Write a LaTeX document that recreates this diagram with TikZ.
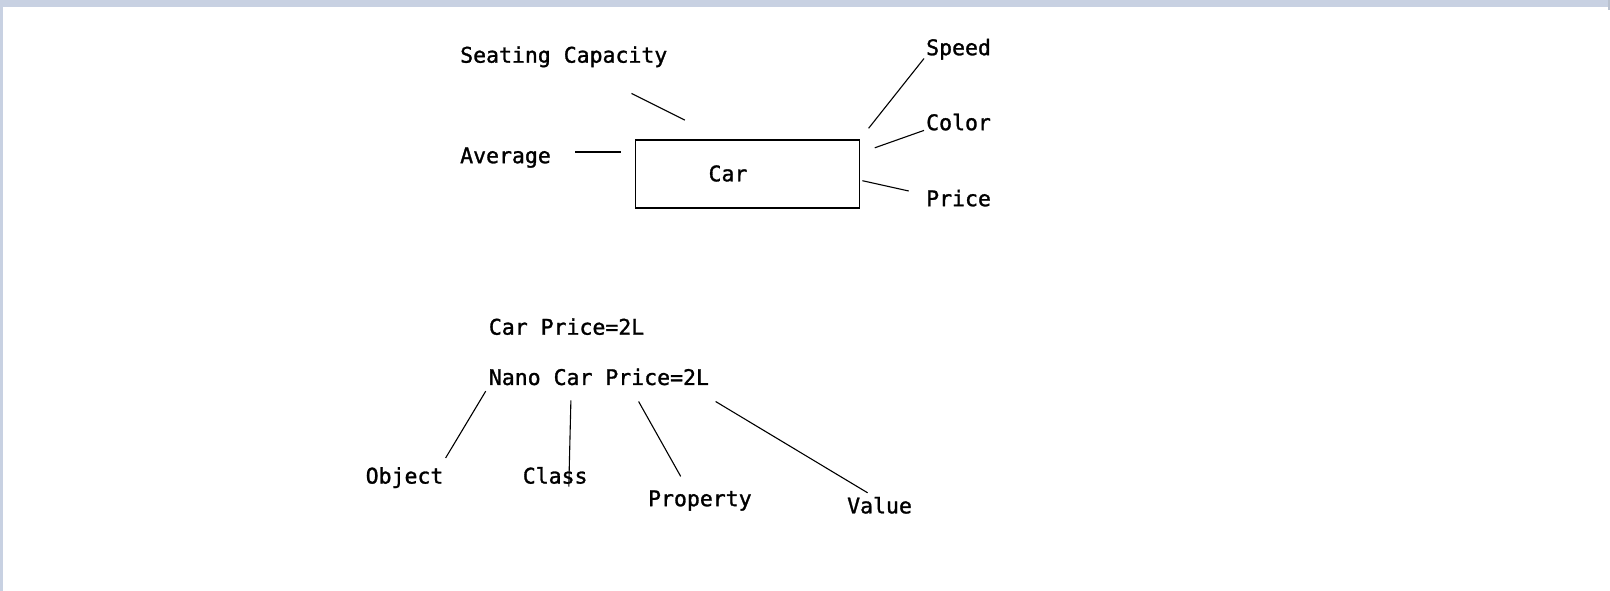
\documentclass[tikz,border=0pt]{standalone}
\usepackage{fontspec}
\newfontfamily\lblfont[FakeBold=1.3]{DejaVu Sans Mono}
\definecolor{frame}{HTML}{C8D1E2}
\tikzset{
  lbl/.style={anchor=mid west, inner sep=0pt, font=\lblfont\fontsize{21.5}{25}\selectfont},
  conn/.style={draw=black, line width=1.1pt},
  carbox/.style={draw=black, line width=1.2pt, minimum width=224pt, minimum height=68pt, inner sep=0pt}
}
\begin{document}
\begin{tikzpicture}[x=1pt,y=-1pt]
\useasboundingbox (0,0) rectangle (1610,591);
\fill[white] (0,0) rectangle (1610,591);
\fill[frame] (0,0) rectangle (1610,7);
\fill[frame] (0,0) rectangle (2.5,591);
\fill[frame!80!gray] (1607.5,0) rectangle (1610,10);

% top diagram
\node[carbox] (car) at (747.5,174) {};
\node[lbl, anchor=center] (cartxt) at (728,173.5) {Car};
\node[lbl] (seat) at (460,60.5) {Seating Capacity};
\node[lbl] (avg) at (460,161) {Average};
\node[lbl] (speed) at (926,53) {Speed};
\node[lbl] (color) at (926,128) {Color};
\node[lbl] (price) at (926,204) {Price};

\coordinate (s1) at (631.5,93.4);   \coordinate (s2) at (684.9,120.1);
\coordinate (a1) at (575,152);      \coordinate (a2) at (621.2,152);
\coordinate (p1) at (924,58.5);     \coordinate (p2) at (868.6,128.3);
\coordinate (c1) at (924,130.4);    \coordinate (c2) at (874.8,147.8);
\coordinate (r1) at (862.4,180.7);  \coordinate (r2) at (908.7,191);
\draw[conn] (s1) -- (s2);
\draw[conn] (a1) -- (a2);
\draw[conn] (p1) -- (p2);
\draw[conn] (c1) -- (c2);
\draw[conn] (r1) -- (r2);

% bottom diagram
\node[lbl] (cp) at (488.7,332.5) {Car Price=2L};
\node[lbl] (nano) at (488.7,382.8) {Nano Car Price=2L};
\node[lbl] (obj) at (365.5,481.4) {Object};
\node[lbl] (cls) at (522.6,481.4) {Class};
\node[lbl] (prop) at (647.9,504) {Property};
\node[lbl] (val) at (847,511.2) {Value};

\coordinate (o1) at (485.7,391.2);  \coordinate (o2) at (445.6,458);
\coordinate (k1) at (570.9,400.4);  \coordinate (k2) at (568.8,486.7);
\coordinate (q1) at (638.6,401.5);  \coordinate (q2) at (680.7,476.4);
\coordinate (v1) at (715.6,401.5);  \coordinate (v2) at (867.6,492.8);
\draw[conn] (o1) -- (o2);
\draw[conn] (k1) -- (k2);
\draw[conn] (q1) -- (q2);
\draw[conn] (v1) -- (v2);
\end{tikzpicture}
\end{document}
